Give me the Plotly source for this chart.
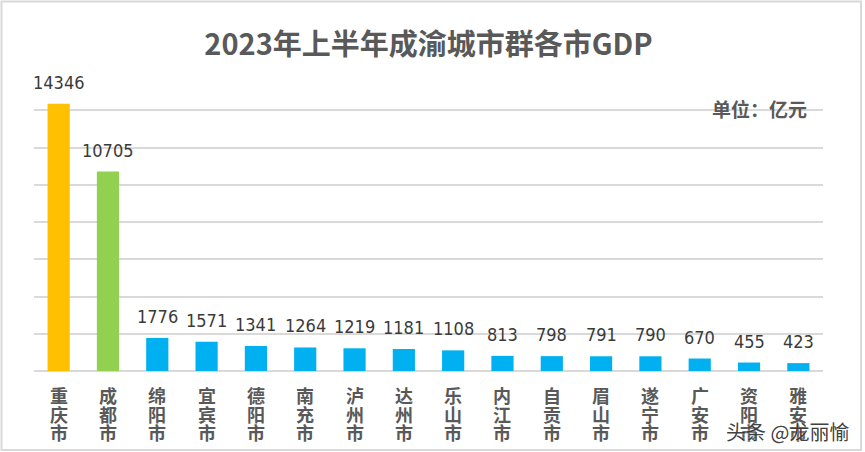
import plotly.graph_objects as go

cities = ["重庆市", "成都市", "绵阳市", "宜宾市", "德阳市", "南充市", "泸州市", "达州市",
          "乐山市", "内江市", "自贡市", "眉山市", "遂宁市", "广安市", "资阳市", "雅安市"]
gdp = [14346, 10705, 1776, 1571, 1341, 1264, 1219, 1181, 1108, 813, 798, 791, 790, 670, 455, 423]
colors = ["#FFC000", "#92D050"] + ["#00B0F0"] * 14

W, H = 865, 452
ml, mr, mt, mb = 34, 42, 73, 81
pw, ph = W - ml - mr, H - mt - mb

def px_x(x):
    return (x - ml) / pw

def px_y(y):
    return (H - mb - y) / ph

fig = go.Figure()
fig.add_trace(go.Bar(
    x=cities, y=gdp, marker=dict(color=colors, line=dict(width=0)),
    width=0.45, hoverinfo="skip",
))

# value labels
for c, v in zip(cities, gdp):
    fig.add_annotation(x=c, y=v, text=str(v), showarrow=False, yanchor="bottom", yshift=9,
                       font=dict(family="DejaVu Sans Condensed, Liberation Sans Narrow, sans-serif",
                                 size=18, color="#3A3A3A"))

# vertical category labels (one character per line)
for c in cities:
    for i, ch in enumerate(c):
        fig.add_annotation(x=c, y=0, text="<b>" + ch + "</b>", showarrow=False,
                           yanchor="middle", yshift=-(24 + i * 18.5),
                           font=dict(family="Noto Sans CJK SC", size=18, color="#595959"))

fig.add_annotation(xref="paper", yref="paper", x=px_x(809), y=px_y(108),
                   xanchor="right", yanchor="middle",
                   text="<b>单位：亿元</b>", showarrow=False,
                   font=dict(family="Noto Sans CJK SC", size=19, color="#595959"))

fig.add_annotation(xref="paper", yref="paper", x=px_x(851), y=px_y(431),
                   xanchor="right", yanchor="middle",
                   text="头条 @龙丽愉", showarrow=False,
                   font=dict(family="Noto Sans CJK SC", size=20, color="rgba(40,40,40,0.9)",
                             shadow="0px 0px 2px white"))

# outer frame
fig.add_shape(type="rect", xref="paper", yref="paper",
              x0=px_x(1.5), x1=px_x(861), y0=px_y(450), y1=px_y(1.5),
              line=dict(color="#D9D9D9", width=2), fillcolor="rgba(0,0,0,0)", layer="below")

fig.update_layout(
    width=W, height=H,
    margin=dict(l=ml, r=mr, t=mt, b=mb, autoexpand=False),
    paper_bgcolor="white", plot_bgcolor="white",
    title=dict(text="<b>2023年上半年成渝城市群各市GDP</b>", x=0.5, xanchor="center",
               xref="paper", y=1 - 45 / H, yanchor="middle",
               font=dict(family="Noto Sans CJK SC", size=29, color="#595959")),
    showlegend=False,
    xaxis=dict(showticklabels=False, showgrid=False, showline=False, ticks="",
               range=[-0.5, len(cities) - 0.5], automargin=False),
    yaxis=dict(range=[0, 16000], dtick=2000, showticklabels=False,
               gridcolor="#D9D9D9", gridwidth=2, zeroline=True, zerolinecolor="#D9D9D9",
               zerolinewidth=2, showline=False, automargin=False),
)

fig.write_html("out.html", config={"displayModeBar": False, "staticPlot": True})

with open("out.html", encoding="utf-8") as f:
    html = f.read()
html = html.replace("<head>", "<head><style>html,body{margin:0;padding:0;overflow:hidden;}</style>", 1)
with open("out.html", "w", encoding="utf-8") as f:
    f.write(html)
